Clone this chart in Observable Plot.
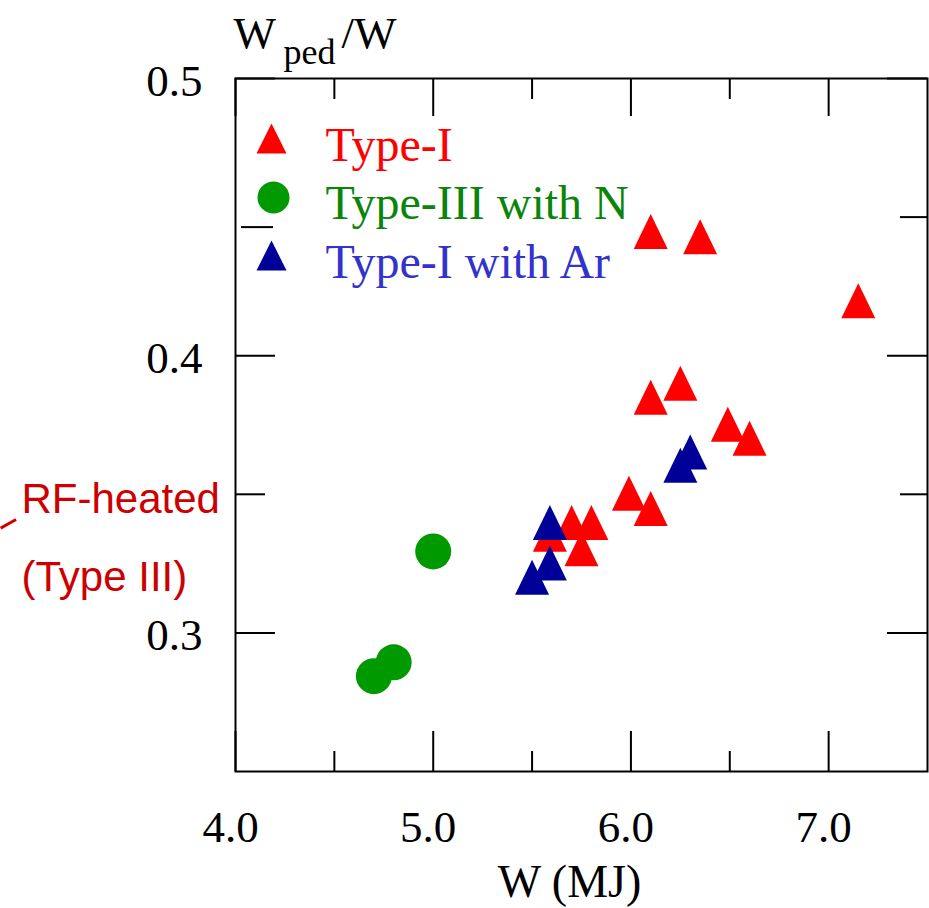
<!DOCTYPE html>
<html><head><meta charset="utf-8">
<script src="https://cdn.jsdelivr.net/npm/d3@7"></script>
<script src="https://cdn.jsdelivr.net/npm/@observablehq/plot@0.6"></script>
<style>body{margin:0;background:#fff}</style>
</head><body><div id="chart"></div>
<script>
// ---- data (W in MJ, Wped/W) ----
const typeI_W   = [6.10, 6.35, 7.15, 6.25, 6.10, 6.49, 6.60, 5.99, 6.10, 5.70, 5.80, 5.59, 5.75];
const typeI_R   = [0.4448, 0.4429, 0.4198, 0.3901, 0.3850, 0.3753, 0.3702, 0.3504, 0.3449, 0.3398, 0.3398, 0.3356, 0.3304];
const typeIIIN_W = [5.00, 4.80, 4.70];
const typeIIIN_R = [0.3294, 0.2894, 0.2844];
const typeIAr_W = [6.30, 6.25, 5.59, 5.59, 5.50];
const typeIAr_R = [0.3653, 0.3605, 0.3398, 0.3252, 0.3201];

const seriesNames = ["Type-I", "Type-III with N", "Type-I with Ar"];
const markerColors = ["#ff0000", "#009900", "#000099"];
const textColors = ["#ff0000", "#0a850a", "#3333cc"];

const xTicks = [4, 5, 6, 7];
const xTickLabels = ["4.0", "5.0", "6.0", "7.0"];
const xMinorTicks = [4.5, 5.5, 6.5];
const yTicks = [0.3, 0.4, 0.5];
const yTickLabels = ["0.3", "0.4", "0.5"];
const yMinorTicks = [0.35, 0.45];

const xLabel = "W (MJ)";
const yLabelParts = ["W", "ped", "/W"];
const rfLines = ["RF-heated", "(Type III)"];
const rfPointer = [{x1: 2.812, y1: 0.3378, x2: 2.890, y2: 0.3409}];

// ---- layout ----
const W = 929, H = 908, mL = 235, mR = 2, mT = 78, mB = 137;
const X0 = 4, X1 = 7.5, Y0 = 0.25, Y1 = 0.5;
const ux = (X1 - X0) / (W - mL - mR), uy = (Y1 - Y0) / (H - mT - mB);
const serif = "Liberation Serif, Times New Roman, serif";
const sans = "Liberation Sans, Arial, sans-serif";

const tri = (w, h) => ({draw(ctx) { ctx.moveTo(0, -h / 2); ctx.lineTo(w / 2, h / 2); ctx.lineTo(-w / 2, h / 2); ctx.closePath(); }});
const dataTri = tri(34, 35), legTri = tri(30, 30);

const pts = (xs, ys) => xs.map((x, i) => ({x, y: ys[i]}));
const red = pts(typeI_W, typeI_R), green = pts(typeIIIN_W, typeIIIN_R), blue = pts(typeIAr_W, typeIAr_R);

const legendSymbols = [legTri, "circle", legTri];
const legendR = [1, 16, 1];
const legendDot = [[36, 60], [38, 119], [36, 177]];
const legendTextDy = [82, 140, 199];

const marks = [
  Plot.frame({stroke: "black", strokeWidth: 2}),
  // bottom ticks
  Plot.ruleX(xTicks, {x: d => d, y1: Y0, y2: Y0 + 40 * uy, stroke: "black", strokeWidth: 2}),
  Plot.ruleX(xMinorTicks, {x: d => d, y1: Y0, y2: Y0 + 20 * uy, stroke: "black", strokeWidth: 2}),
  // top ticks
  Plot.ruleX(xTicks, {x: d => d, y1: Y1, y2: Y1 - 38 * uy, stroke: "black", strokeWidth: 2}),
  Plot.ruleX(xMinorTicks, {x: d => d, y1: Y1, y2: Y1 - 21 * uy, stroke: "black", strokeWidth: 2}),
  // left ticks
  Plot.ruleY(yTicks, {y: d => d, x1: X0, x2: X0 + 40 * ux, stroke: "black", strokeWidth: 2}),
  Plot.ruleY([yMinorTicks[0]], {y: d => d, x1: X0, x2: X0 + 30 * ux, stroke: "black", strokeWidth: 2}),
  Plot.ruleY([yMinorTicks[1]], {y: d => d, x1: X0, x2: X0 + 32 * ux, dx: 6, dy: 10, stroke: "black", strokeWidth: 2}),
  // right ticks
  Plot.ruleY(yTicks, {y: d => d, x1: X1, x2: X1 - 40 * ux, stroke: "black", strokeWidth: 2}),
  Plot.ruleY(yMinorTicks, {y: d => d, x1: X1, x2: X1 - 27 * ux, stroke: "black", strokeWidth: 2}),
  // tick labels
  Plot.axisX({ticks: xTicks, tickFormat: d => xTickLabels[xTicks.indexOf(d)], tickSize: 0, tickPadding: 39,
    fontSize: 45, fontFamily: serif, fill: "black", dx: -5, label: null}),
  Plot.axisY({anchor: "left", ticks: yTicks, tickFormat: d => yTickLabels[yTicks.indexOf(d)], tickSize: 0, tickPadding: 33,
    fontSize: 45, fontFamily: serif, fill: "black", dy: 3, label: null}),
  // axis titles
  Plot.text([xLabel], {text: d => d, frameAnchor: "bottom", dx: -12, dy: 125.5, lineAnchor: "bottom", fontSize: 46, fontFamily: serif, fill: "black"}),
  Plot.text([yLabelParts[0]], {text: d => d, frameAnchor: "top-left", textAnchor: "start", dx: -2, dy: -31, lineAnchor: "bottom", fontSize: 45, fontFamily: serif, fill: "black"}),
  Plot.text([yLabelParts[1]], {text: d => d, frameAnchor: "top-left", textAnchor: "start", dx: 48, dy: -15, lineAnchor: "bottom", fontSize: 36, fontFamily: serif, fill: "black"}),
  Plot.text([yLabelParts[2]], {text: d => d, frameAnchor: "top-left", textAnchor: "start", dx: 106, dy: -31, lineAnchor: "bottom", fontSize: 45, fontFamily: serif, fill: "black"}),
  // RF-heated annotation
  Plot.text([rfLines[0]], {text: d => d, frameAnchor: "top-left", textAnchor: "start", dx: 21 - mL, dy: 512 - mT, lineAnchor: "bottom", fontSize: 42, fontFamily: sans, fill: "#cc0000"}),
  Plot.text([rfLines[1]], {text: d => d, frameAnchor: "top-left", textAnchor: "start", dx: 21 - mL, dy: 590 - mT, lineAnchor: "bottom", fontSize: 42, fontFamily: sans, fill: "#cc0000"}),
  Plot.link(rfPointer, {x1: "x1", y1: "y1", x2: "x2", y2: "y2", stroke: "#cc0000", strokeWidth: 3}),
  // data
  Plot.dot(red, {x: "x", y: "y", symbol: dataTri, r: 1, fill: markerColors[0], stroke: "none"}),
  Plot.dot(green, {x: "x", y: "y", symbol: "circle", r: 18, fill: markerColors[1], stroke: "none"}),
  Plot.dot(blue, {x: "x", y: "y", symbol: dataTri, r: 1, fill: markerColors[2], stroke: "none"}),
];
// legend
seriesNames.forEach((name, i) => {
  marks.push(Plot.dot([name], {frameAnchor: "top-left", dx: legendDot[i][0], dy: legendDot[i][1], symbol: legendSymbols[i], r: legendR[i], fill: markerColors[i], stroke: "none"}));
  marks.push(Plot.text([name], {text: d => d, frameAnchor: "top-left", textAnchor: "start", dx: 90, dy: legendTextDy[i], lineAnchor: "bottom", fontSize: 48, fontFamily: serif, fill: textColors[i]}));
});

const chart = Plot.plot({
  width: W, height: H,
  marginLeft: mL, marginRight: mR, marginTop: mT, marginBottom: mB,
  x: {domain: [X0, X1]},
  y: {domain: [Y0, Y1]},
  style: {background: "white", overflow: "visible"},
  marks
});
document.getElementById("chart").appendChild(chart);
</script>
</body></html>
